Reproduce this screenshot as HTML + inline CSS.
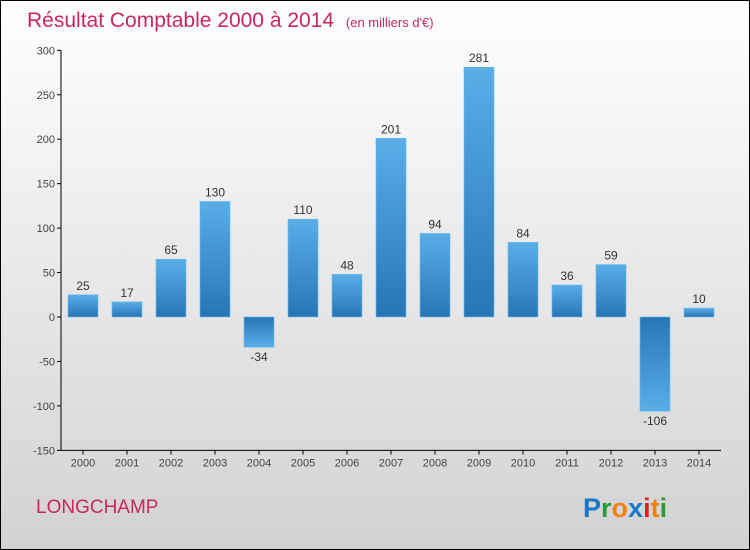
<!DOCTYPE html>
<html><head><meta charset="utf-8"><style>
html,body{margin:0;padding:0}
body{width:750px;height:550px;overflow:hidden;font-family:"Liberation Sans",sans-serif}
#frame{position:absolute;left:0;top:0;width:748px;height:548px;border:1px solid #000;background:linear-gradient(#ffffff,#d2d2d2)}
</style></head><body>
<div id="frame">
<svg width="750" height="550" style="position:absolute;left:-1px;top:-1px">
<defs>
<linearGradient id="gp" x1="0" y1="0" x2="0" y2="1"><stop offset="0" stop-color="#5aaee8"/><stop offset="1" stop-color="#2776b4"/></linearGradient>
<linearGradient id="gn" x1="0" y1="0" x2="0" y2="1"><stop offset="0" stop-color="#2776b4"/><stop offset="1" stop-color="#5aaee8"/></linearGradient>
</defs>
<text x="27" y="27" font-size="21" fill="#c8285a">Résultat Comptable 2000 à 2014 <tspan font-size="13" dx="6">(en milliers d'€)</tspan></text>
<g id="axes"></g>
<g id="bars"></g>
<text x="36" y="513" font-size="19" fill="#c8285a">LONGCHAMP</text>
<text x="583" y="517" font-size="27" font-weight="bold"><tspan fill="#1a78c8">P</tspan><tspan fill="#2a9a3a">r</tspan><tspan fill="#f08010">o</tspan><tspan fill="#1a78c8">x</tspan><tspan fill="#e02020">i</tspan><tspan fill="#f08010">t</tspan><tspan fill="#2a9a3a">i</tspan></text>
</svg></div>
<script>
const years=["2000","2001","2002","2003","2004","2005","2006","2007","2008","2009","2010","2011","2012","2013","2014"];
const values=[25,17,65,130,-34,110,48,201,94,281,84,36,59,-106,10];
const ticks=[300,250,200,150,100,50,0,-50,-100,-150];
const NS="http://www.w3.org/2000/svg";
const y=v=>317-v*400/450;
const x=i=>83+i*44;
const ax=document.getElementById('axes'),bg=document.getElementById('bars');
function mk(t,a,p){const e=document.createElementNS(NS,t);for(const k in a)e.setAttribute(k,a[k]);p.appendChild(e);return e;}
let l=mk('line',{x1:61,y1:y(300),x2:61,y2:y(-150),stroke:'#000'},ax);


l=mk('line',{x1:61,y1:y(-150),x2:721,y2:y(-150),stroke:'#000'},ax);


ticks.forEach(t=>{
  mk('line',{x1:57,y1:y(t),x2:61,y2:y(t),stroke:'#000'},ax);
  const e=mk('text',{x:55,y:y(t)+4,'font-size':11,fill:'#444','text-anchor':'end'},ax);
  e.textContent=t;
  
  
});
years.forEach((yr,i)=>{
  mk('line',{x1:x(i),y1:y(-150),x2:x(i),y2:y(-150)+4,stroke:'#000'},ax);
  const e=mk('text',{x:x(i),y:y(-150)+16,'font-size':11,fill:'#444','text-anchor':'middle'},ax);
  e.textContent=yr;
  
  
  const v=values[i];
  const r=mk('rect',{x:x(i)-15,y:Math.min(y(v),y(0)),width:30,height:Math.abs(y(v)-y(0)),fill:v>=0?'url(#gp)':'url(#gn)',stroke:'#6ab8ec','stroke-width':0.6},bg);
  
  
  const t=mk('text',{x:x(i),y:v>=0?y(v)-5:y(v)+14,'font-size':12,fill:'#333','text-anchor':'middle'},bg);
  t.textContent=v;
  
  
});
</script>
</body></html>
